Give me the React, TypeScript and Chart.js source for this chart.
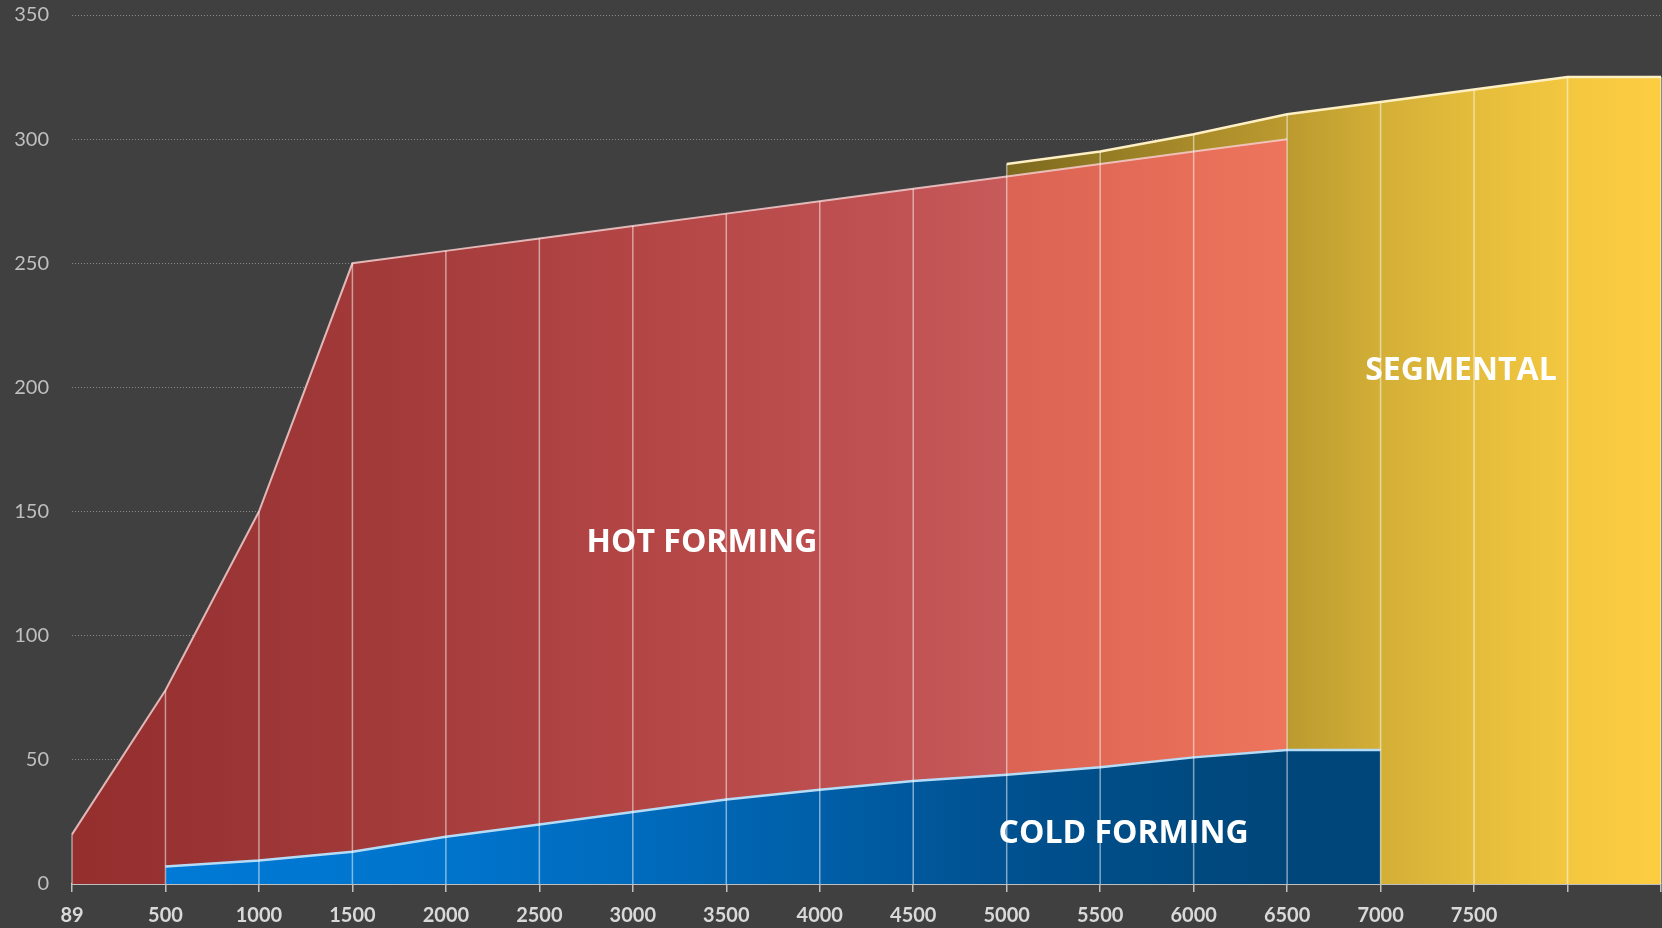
import React, { useEffect, useRef } from 'react';
import { Chart, registerables } from 'chart.js';

Chart.register(...registerables);

const categories = ['89', '500', '1000', '1500', '2000', '2500', '3000', '3500', '4000', '4500', '5000', '5500', '6000', '6500', '7000', '7500', '', ''];
const hotForming = [20, 78, 150, 250, 255, 260, 265, 270, 275, 280, 285, 290, 295, 300, null, null, null, null];
const coldForming = [null, 7, 9.5, 13, 19, 24, 29, 34, 38, 41.5, 44, 47, 51, 54, 54, null, null, null];
const segmental = [null, null, null, null, null, null, null, null, null, null, 290, 295, 302, 310, 315, 320, 325, 325];
const yMin = 0;
const yMax = 350;
const yStep = 50;
const areaLabels = [
  { text: 'HOT FORMING', x: 6.74, y: 137.5 },
  { text: 'COLD FORMING', x: 11.25, y: 20 },
  { text: 'SEGMENTAL', x: 14.86, y: 206.5 },
];

type Stop = [number, string];

function makeGradient(stopsFn: (f: (i: number) => number) => Stop[]) {
  return (ctx: any) => {
    const chart = ctx.chart;
    const area = chart.chartArea;
    if (!area) return 'rgba(0,0,0,0)';
    const xs = chart.scales.x;
    const w = area.right - area.left;
    const f = (i: number) => Math.min(1, Math.max(0, (xs.getPixelForValue(i) - area.left) / w));
    const g = chart.ctx.createLinearGradient(area.left, 0, area.right, 0);
    for (const [p, c] of stopsFn(f)) g.addColorStop(Math.min(1, Math.max(0, p)), c);
    return g;
  };
}

const redFill = makeGradient((f) => [
  [0, '#952f2e'],
  [f(1), '#983232'],
  [f(3), '#a13939'],
  [f(6), '#b34545'],
  [f(9), '#c25354'],
  [f(10) - 0.0004, '#c75a5a'],
  [f(10) + 0.0004, '#da6353'],
  [f(13), '#ee755c'],
  [1, '#ee755c'],
]);

const blueFill = makeGradient((f) => [
  [0, '#007ad6'],
  [f(1), '#007ad6'],
  [f(4), '#0074cc'],
  [f(6), '#006bbd'],
  [f(8), '#005fa8'],
  [f(10), '#005190'],
  [f(12), '#004a80'],
  [f(13), '#00467a'],
  [1, '#004578'],
]);

const yellowFill = makeGradient((f) => [
  [0, '#7a661c'],
  [f(10), '#7d691e'],
  [f(11), '#937b24'],
  [f(12), '#a98b29'],
  [f(13), '#bb9a2f'],
  [f(14), '#d3af37'],
  [f(15), '#e5bd3c'],
  [f(16), '#f3c73f'],
  [1, '#fdcd41'],
]);

const dropLinesPlugin = {
  id: 'dropLines',
  afterDatasetsDraw(chart: any) {
    const { ctx } = chart;
    const xs = chart.scales.x;
    const ys = chart.scales.y;
    ctx.save();
    ctx.strokeStyle = 'rgba(255,255,255,0.5)';
    ctx.lineWidth = 1.5;
    for (let i = 0; i < categories.length; i++) {
      let top: number | null = null;
      for (const ds of chart.data.datasets) {
        const v = ds.data[i];
        if (v !== null && v !== undefined && (top === null || v > top)) top = v;
      }
      if (top === null) continue;
      const x = xs.getPixelForValue(i);
      ctx.beginPath();
      ctx.moveTo(x, ys.getPixelForValue(top));
      ctx.lineTo(x, ys.getPixelForValue(0));
      ctx.stroke();
    }
    ctx.restore();
  },
};

const areaLabelPlugin = {
  id: 'areaLabels',
  afterDraw(chart: any) {
    const { ctx } = chart;
    const xs = chart.scales.x;
    const ys = chart.scales.y;
    ctx.save();
    ctx.fillStyle = '#ffffff';
    ctx.font = 'bold 32px "Open Sans"';
    ctx.textAlign = 'center';
    ctx.textBaseline = 'middle';
    for (const l of areaLabels) {
      ctx.fillText(l.text, xs.getPixelForValue(l.x), ys.getPixelForValue(l.y));
    }
    ctx.restore();
  },
};

export default function App() {
  const ref = useRef<HTMLCanvasElement | null>(null);

  useEffect(() => {
    if (!ref.current) return;
    const chart = new Chart(ref.current, {
      type: 'line',
      data: {
        labels: categories,
        datasets: [
          {
            label: 'Segmental',
            data: segmental,
            order: 3,
            fill: 'origin',
            backgroundColor: yellowFill,
            borderColor: '#fff0c4',
            borderWidth: 2.5,
            pointRadius: 0,
            tension: 0,
          },
          {
            label: 'Hot forming',
            data: hotForming,
            order: 2,
            fill: 'origin',
            backgroundColor: redFill,
            borderColor: 'rgba(245,205,205,0.85)',
            borderWidth: 2,
            pointRadius: 0,
            tension: 0,
          },
          {
            label: 'Cold forming',
            data: coldForming,
            order: 1,
            fill: 'origin',
            backgroundColor: blueFill,
            borderColor: '#b5dcf7',
            borderWidth: 2.5,
            pointRadius: 0,
            tension: 0,
          },
        ],
      } as any,
      options: {
        responsive: false,
        maintainAspectRatio: false,
        animation: false,
        devicePixelRatio: 1,
        layout: { padding: { top: 15, right: 1, left: 0, bottom: 0 } },
        plugins: {
          legend: { display: false },
          tooltip: { enabled: false },
        },
        scales: {
          x: {
            type: 'category',
            offset: false,
            grid: {
              display: true,
              drawOnChartArea: false,
              drawTicks: true,
              tickLength: 8,
              color: '#bfbfbf',
              lineWidth: 1.5,
            },
            border: { display: true, color: '#bfbfbf', width: 2 },
            ticks: {
              autoSkip: false,
              maxRotation: 0,
              minRotation: 0,
              color: '#d9d9d9',
              padding: 0,
              font: { family: 'Lato', size: 20, weight: 'bold', lineHeight: 2.35 },
            },
            afterFit(scale: any) {
              scale.height = 44;
            },
          },
          y: {
            min: yMin,
            max: yMax,
            grid: {
              color: '#8a8a8a',
              lineWidth: 1,
              drawTicks: true,
              tickLength: 23,
              tickColor: 'rgba(0,0,0,0)',
            },
            border: { display: false, dash: [1, 2] },
            ticks: {
              stepSize: yStep,
              color: '#bfbfbf',
              padding: 0,
              font: { family: 'Lato', size: 20 },
            },
            afterFit(scale: any) {
              scale.width = 72;
            },
          },
        },
      } as any,
      plugins: [dropLinesPlugin, areaLabelPlugin],
    });
    return () => chart.destroy();
  }, []);

  return (
    <div style={{ position: 'fixed', left: 0, top: 0, width: 1662, height: 928, background: '#404040' }}>
      <canvas ref={ref} width={1662} height={928} style={{ display: 'block', width: 1662, height: 928 }} />
    </div>
  );
}
